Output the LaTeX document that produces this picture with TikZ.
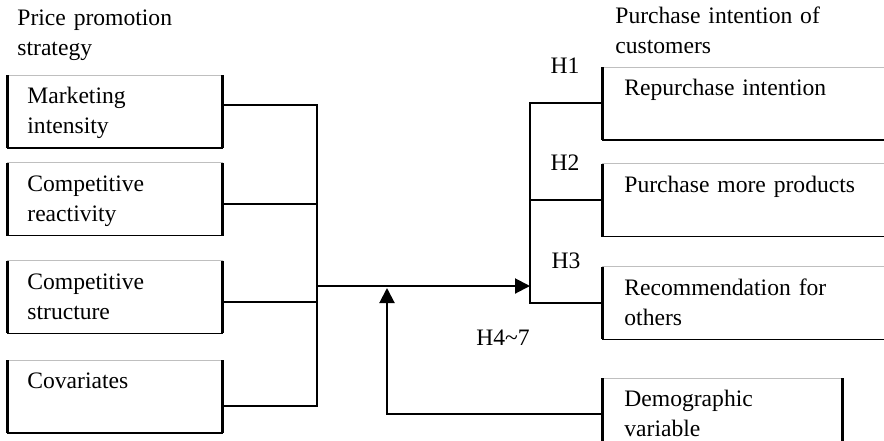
\documentclass[tikz,border=0pt]{standalone}
\usepackage{fontspec}
\setmainfont{Liberation Serif}
\usetikzlibrary{arrows.meta,positioning}
\tikzset{
    caixa/.style={
        rectangle,
        anchor=north west,
        align=left,
        inner xsep=10pt,
        inner ysep=0pt,
        text height=14pt,
        text depth=22pt
    },
    fator/.style={caixa, text width=87.5pt},
    intencao/.style={caixa, inner xsep=11pt, text width=158pt},
    moderador/.style={caixa, inner xsep=11pt, text width=98pt},
    titulo/.style={anchor=north west, align=left, inner sep=0pt, text width=130pt, text height=10pt},
    hipotese/.style={anchor=base, inner sep=0pt},
    ligacao/.style={line width=1pt},
    seta/.style={ligacao, -{Triangle[length=7.5pt, width=7.5pt]}}
}
\newcommand{\bordas}[1]{%
    \draw[gray!50, line width=0.5pt] (#1.north west) -- (#1.north east);
    \draw[line width=0.8pt] (#1.south west) -- (#1.south east);
    \draw[line width=1.5pt] (#1.north west) -- (#1.south west);
    \draw[line width=1.5pt] (#1.north east) -- (#1.south east);
}

\begin{document}
\begin{tikzpicture}[x=0.5pt, y=-0.5pt, font=\fontsize{11.8pt}{15pt}\selectfont]
    \useasboundingbox (0,0) rectangle (884,440);
    \clip (0,0) rectangle (884,440);

    \node[titulo] (precoTit) at (17,5) {Price promotion\\strategy};
    \node[titulo] (compraTit) at (615,3) {Purchase intention of\\customers};

    \node[fator] (marketing) at (7,75) {Marketing\\intensity};
    \node[fator, below=7.5pt of marketing] (reatividade) {Competitive\\reactivity};
    \node[fator, below=12.5pt of reatividade] (estrutura) {Competitive\\structure};
    \node[fator, below=13.5pt of estrutura] (covariaveis) {Covariates};

    \node[intencao] (recompra) at (602,67) {Repurchase intention};
    \node[intencao, below=12pt of recompra] (maisprod) {Purchase more products};
    \node[intencao, below=15pt of maisprod] (recomend) {Recommendation for\\others};

    \node[moderador] (demografia) at (602,378) {Demographic\\variable};

    \foreach \n in {marketing,reatividade,estrutura,covariaveis,recompra,maisprod,recomend,demografia}
        {\bordas{\n}}

    \node[hipotese] (h1) at (565,73) {H1};
    \node[hipotese] (h2) at (565,170) {H2};
    \node[hipotese] (h3) at (566,268) {H3};
    \node[hipotese] (h47) at (503,345) {H4\textasciitilde7};

    \coordinate (barraEsq) at (317,286);
    \coordinate (barraDir) at (530,286);
    \coordinate (moderacao) at (387,288);

    \draw[ligacao] ([yshift=3pt]marketing.east) -| (barraEsq);
    \draw[ligacao] ([yshift=-2.5pt]reatividade.east) -| (barraEsq);
    \draw[ligacao] ([yshift=-2.5pt]estrutura.east) -| (barraEsq);
    \draw[ligacao] ([yshift=-4.5pt]covariaveis.east) -| (barraEsq);
    \draw[seta] (barraEsq) -- (barraDir);
    \draw[ligacao] (recompra.west) -| (barraDir);
    \draw[ligacao] (maisprod.west) -| (barraDir);
    \draw[ligacao] (recomend.west) -| (barraDir);
    \draw[seta] (demografia.west) -| (moderacao);
\end{tikzpicture}
\end{document}
